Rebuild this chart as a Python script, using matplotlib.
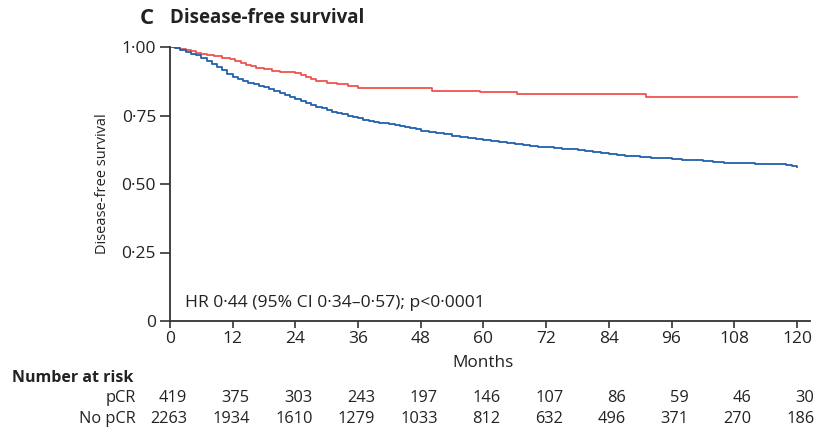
import matplotlib
matplotlib.use('Agg')
import matplotlib.pyplot as plt

plt.rcParams['font.family'] = ['Open Sans', 'DejaVu Sans']

# Kaplan-Meier estimates (months, survival)
pcr_months = [0, 1, 2, 3, 4, 5, 6, 7, 8.5, 10, 11.5, 12.5, 13.5, 14.5, 15.5, 16.5, 18, 19.5,
              21, 22.5, 24, 25, 26, 27, 28, 30, 32, 34, 36, 37.3,
              50.1, 59.3, 66.4, 91.2, 120]
pcr_surv = [1.0, 0.997, 0.993, 0.989, 0.984, 0.979, 0.974, 0.970, 0.966, 0.961, 0.955, 0.950,
            0.942, 0.934, 0.930, 0.925, 0.919, 0.914, 0.910, 0.907, 0.904, 0.898, 0.890,
            0.882, 0.875, 0.870, 0.864, 0.856, 0.851, 0.849,
            0.841, 0.834, 0.828, 0.816, 0.816]

nopcr_months = [0, 1, 2, 3, 4, 5, 6, 7, 8, 9, 10, 11, 12, 13, 14, 15, 16, 17, 18, 19, 20,
                21, 22, 23, 24, 25, 26, 27, 28, 29, 30, 31, 32, 33, 34, 35, 36, 37, 38, 39,
                40, 41, 42, 43, 44, 45, 46, 47, 48, 49.5, 51, 52.5, 54, 55.5, 57, 58.5, 60,
                61.5, 63, 64.5, 66, 67.5, 69, 70.5, 72, 73.5, 75, 76.5, 78, 79.5, 81, 82.5,
                84, 85.5, 87, 88.5, 90, 92, 94, 96, 98, 100, 102, 104, 106, 108, 110, 112,
                114, 116, 118, 119, 120]
nopcr_surv = [1.0, 0.997, 0.990, 0.983, 0.976, 0.970, 0.960, 0.950, 0.938, 0.927, 0.915,
              0.903, 0.890, 0.882, 0.876, 0.870, 0.865, 0.859, 0.853, 0.847, 0.840, 0.833,
              0.825, 0.818, 0.811, 0.802, 0.796, 0.789, 0.782, 0.776, 0.770, 0.764, 0.759,
              0.754, 0.749, 0.745, 0.740, 0.735, 0.730, 0.726, 0.723, 0.721, 0.718, 0.715,
              0.712, 0.709, 0.705, 0.700, 0.695, 0.691, 0.687, 0.682, 0.677, 0.672, 0.668,
              0.665, 0.661, 0.658, 0.654, 0.650, 0.646, 0.642, 0.639, 0.636, 0.634, 0.632,
              0.629, 0.627, 0.624, 0.620, 0.617, 0.614, 0.610, 0.607, 0.604, 0.601, 0.598,
              0.596, 0.594, 0.592, 0.589, 0.586, 0.583, 0.580, 0.578, 0.576, 0.575, 0.574,
              0.573, 0.572, 0.569, 0.566, 0.562]

x_ticks = [0, 12, 24, 36, 48, 60, 72, 84, 96, 108, 120]
y_ticks = [0, 0.25, 0.5, 0.75, 1.0]
y_labels = ['0', '0·25', '0·50', '0·75', '1·00']

risk_pcr = [419, 375, 303, 243, 197, 146, 107, 86, 59, 46, 30]
risk_nopcr = [2263, 1934, 1610, 1279, 1033, 812, 632, 496, 371, 270, 186]

W, H = 817, 428
fig = plt.figure(figsize=(W / 100, H / 100), dpi=100)
ax = fig.add_axes([170 / W, 1 - 321 / H, (810 - 170) / W, (321 - 47) / H])

ax.plot(pcr_months, pcr_surv, drawstyle='steps-post', color='#ef5350', lw=1.3)
ax.plot(nopcr_months, nopcr_surv, drawstyle='steps-post', color='#2160ab', lw=1.3)

ax.set_xlim(0, 122.5)
ax.set_ylim(0, 1.0)
ax.set_xticks(x_ticks)
ax.set_yticks(y_ticks)
ax.set_yticklabels(y_labels)
for s in ['top', 'right']:
    ax.spines[s].set_visible(False)
for s in ['left', 'bottom']:
    ax.spines[s].set_color('#333333')
    ax.spines[s].set_linewidth(1.3)
ax.spines['left'].set_bounds(0, 1.0)
ax.tick_params(axis='y', length=7, width=1.2, color='#333333', pad=3, labelsize=12.5, labelcolor='#222222')
ax.tick_params(axis='x', length=5, width=1.2, color='#333333', pad=2, labelsize=12.5, labelcolor='#222222')
ax.set_ylabel('Disease-free survival', fontsize=10.5, color='#222222', labelpad=8)

ax.text(2.8, 0.066, 'HR 0·44 (95% CI 0·34–0·57); p<0·0001', fontsize=12.6, color='#222222',
        va='center', ha='left')
ax.text(60, -0.153, 'Months', transform=ax.get_xaxis_transform(), fontsize=12.3,
        color='#222222', ha='center', va='center')

# title
fig.text(140 / W, 1 - 18 / H, 'C', fontsize=16, fontweight='bold', color='#222222', va='center')
fig.text(170 / W, 1 - 18 / H, 'Disease-free survival', fontsize=13.5, fontweight='bold',
         color='#222222', va='center')

# number at risk table
fig.text(12 / W, 1 - 378 / H, 'Number at risk', fontsize=11.5, fontweight='bold',
         color='#222222', va='center')
fig.text(136 / W, 1 - 398 / H, 'pCR', fontsize=11.8, color='#222222', va='center', ha='right')
fig.text(136 / W, 1 - 419 / H, 'No pCR', fontsize=11.8, color='#222222', va='center', ha='right')
xt = ax.get_xaxis_transform()
for t, a, b in zip(x_ticks, risk_pcr, risk_nopcr):
    ax.text(t + 3.3, -0.281, str(a), transform=xt, fontsize=11.8, color='#222222',
            ha='right', va='center', clip_on=False)
    ax.text(t + 3.3, -0.357, str(b), transform=xt, fontsize=11.8, color='#222222',
            ha='right', va='center', clip_on=False)

fig.savefig('out.png', dpi=100)
